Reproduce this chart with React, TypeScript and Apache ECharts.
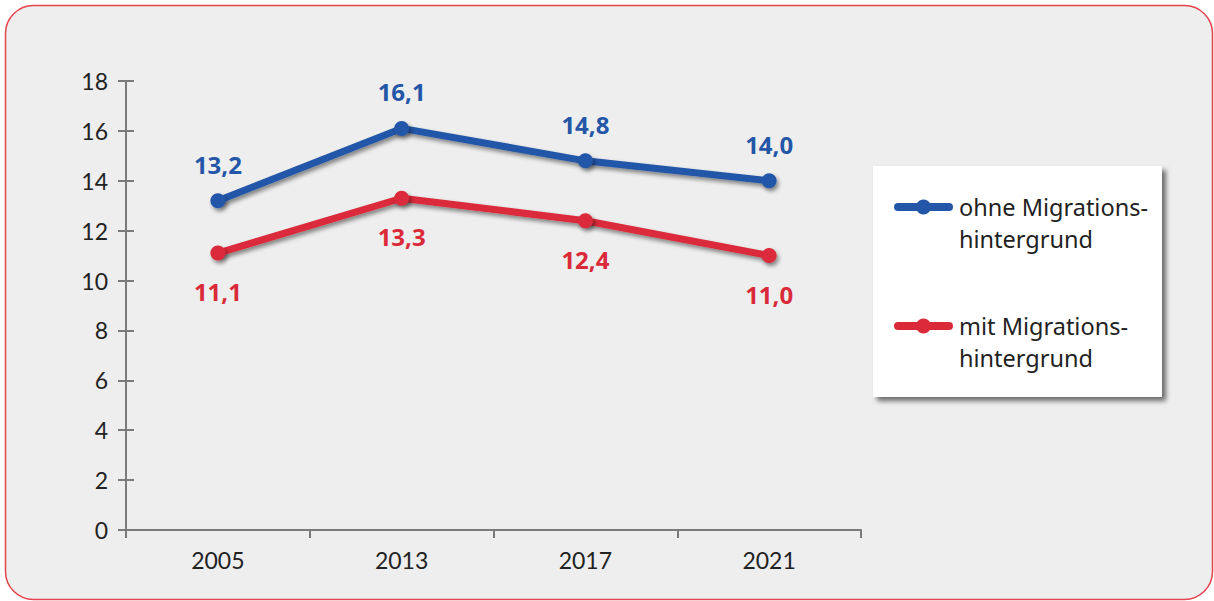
import React, { useEffect, useRef } from "react";
import * as echarts from "echarts";

const years = ["2005", "2013", "2017", "2021"];
const ohneMigration = [13.2, 16.1, 14.8, 14.0];
const mitMigration = [11.1, 13.3, 12.4, 11.0];
const seriesNames = ["ohne Migrations-\nhintergrund", "mit Migrations-\nhintergrund"];

const BLUE = "#2456a8";
const RED = "#da2a3a";
const fmt = (v: number) => v.toFixed(1).replace(".", ",");

export default function App() {
  const ref = useRef<HTMLDivElement>(null);
  useEffect(() => {
    document.body.style.margin = "0";
    const chart = echarts.init(ref.current!, null, { renderer: "svg" });
    const lineSeries = (name: string, data: number[], color: string, pos: "top" | "bottom") => ({
      name,
      type: "line",
      data,
      z: 4,
      symbol: "circle",
      symbolSize: 15,
      lineStyle: {
        width: 7,
        color,
        shadowColor: "rgba(0,0,0,0.45)",
        shadowBlur: 4,
        shadowOffsetX: 2,
        shadowOffsetY: 3,
      },
      itemStyle: {
        color,
        shadowColor: "rgba(0,0,0,0.45)",
        shadowBlur: 4,
        shadowOffsetX: 2,
        shadowOffsetY: 3,
      },
      label: {
        show: true,
        position: pos,
        distance: pos === "top" ? 17 : 19,
        color,
        fontSize: 24,
        fontWeight: "bold",
        fontFamily: "'Open Sans', 'Noto Sans', sans-serif",
        formatter: (p: any) => fmt(p.value),
      },
    });
    chart.setOption({
      animation: false,
      backgroundColor: "transparent",
      graphic: [
        {
          type: "rect",
          z: 0,
          shape: { x: 5.5, y: 5.5, width: 1207, height: 594, r: 28 },
          style: { fill: "#eeeeee", stroke: "#e6434e", lineWidth: 1.5 },
        },
        {
          type: "rect",
          z: 1,
          shape: { x: 873, y: 166, width: 289, height: 231 },
          style: {
            fill: "#ffffff",
            shadowColor: "rgba(0,0,0,0.55)",
            shadowBlur: 5,
            shadowOffsetX: 4,
            shadowOffsetY: 4,
          },
        },
      ],
      grid: { left: 126, right: 353, top: 81, bottom: 71, containLabel: false },
      legend: {
        z: 6,
        orient: "vertical",
        left: 894,
        top: 159,
        padding: 0,
        itemWidth: 51,
        itemHeight: 19,
        itemGap: 23,
        data: seriesNames,
        formatter: (name: string) => " \n" + name,
        lineStyle: { width: 8, cap: "round", shadowBlur: 0, shadowColor: "transparent", shadowOffsetX: 0, shadowOffsetY: 0 },
        itemStyle: { shadowBlur: 0, shadowColor: "transparent", shadowOffsetX: 0, shadowOffsetY: 0 },
        textStyle: {
          fontSize: 23.5,
          color: "#222222",
          lineHeight: 32,
          padding: [0, 0, 0, 5],
          fontFamily: "'Noto Sans', Lato, sans-serif",
        },
      },
      xAxis: {
        type: "category",
        data: years,
        boundaryGap: true,
        z: 3,
        axisLine: { lineStyle: { color: "#7a7a7a", width: 2 } },
        axisTick: { show: true, length: 8, lineStyle: { color: "#7a7a7a", width: 2 } },
        axisLabel: {
          color: "#222222",
          fontSize: 23,
          margin: 18,
          fontFamily: "Lato, sans-serif",
        },
        splitLine: { show: false },
      },
      yAxis: [
        {
          type: "value",
          min: 0,
          max: 18,
          interval: 2,
          z: 3,
          axisLine: { show: true, lineStyle: { color: "#7a7a7a", width: 2 } },
          axisTick: { show: true, length: 8, lineStyle: { color: "#7a7a7a", width: 2 } },
          axisLabel: {
            color: "#222222",
            fontSize: 23,
            margin: 18,
            fontFamily: "Lato, 'Noto Sans', sans-serif",
          },
          splitLine: { show: false },
        },
        {
          type: "value",
          min: 0,
          max: 18,
          interval: 2,
          position: "left",
          z: 3,
          axisLine: { show: false },
          axisTick: { show: true, inside: true, length: 8, lineStyle: { color: "#7a7a7a", width: 2 } },
          axisLabel: { show: false },
          splitLine: { show: false },
        },
      ],
      series: [
        lineSeries(seriesNames[0], ohneMigration, BLUE, "top"),
        lineSeries(seriesNames[1], mitMigration, RED, "bottom"),
      ],
    });
    return () => chart.dispose();
  }, []);
  return <div ref={ref} style={{ width: 1214, height: 601 }} />;
}
